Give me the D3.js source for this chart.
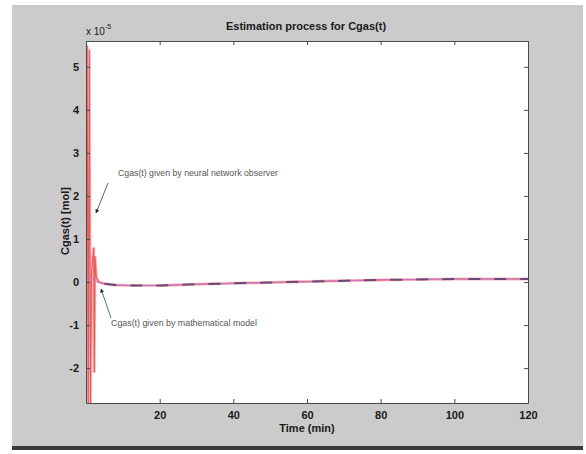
<!DOCTYPE html>
<html>
<head>
<meta charset="utf-8">
<script src="https://cdn.jsdelivr.net/npm/d3@7"></script>
<style>
  body { margin: 0; background: #fff; }
  text { font-family: 'Liberation Sans', Arial, sans-serif; }
</style>
</head>
<body>
<svg id="chart" width="586" height="454"></svg>
<script>
// time in minutes, values in units of 1e-5 mol
const observerTime = [0, 0.3, 0.6, 0.9, 1.2, 1.5, 2.1, 2.25, 2.45, 2.8, 3.5, 5, 8, 12, 20, 30, 40, 50, 60, 70, 80, 90, 100, 110, 120]
const observerValue = [0.1, 5.5, -2.9, 5.4, -2.9, 0.2, 0.8, -2.1, 0.6, 0.1, 0.0, -0.04, -0.07, -0.08, -0.08, -0.05, -0.03, -0.01, 0.01, 0.03, 0.05, 0.06, 0.07, 0.07, 0.07]
const modelTime = [0, 1, 2, 3, 5, 8, 12, 20, 30, 40, 50, 60, 70, 80, 90, 100, 110, 120]
const modelValue = [0.15, 0.1, 0.05, 0.0, -0.04, -0.07, -0.08, -0.08, -0.05, -0.03, -0.01, 0.01, 0.03, 0.05, 0.06, 0.07, 0.07, 0.07]
const xTicks = [0, 20, 40, 60, 80, 100, 120]
const xTickLabels = ['', '20', '40', '60', '80', '100', '120']
const yTicks = [-2, -1, 0, 1, 2, 3, 4, 5]

const svg = d3.select('#chart')

// figure background
svg.append('rect').attr('x', 12).attr('y', 5).attr('width', 571).attr('height', 444).attr('fill', '#cbcbcb')
svg.append('rect').attr('x', 12).attr('y', 446).attr('width', 571).attr('height', 4).attr('fill', '#3a3a3a')

const plot = { left: 86, top: 41, right: 528, bottom: 403 }

const x = d3.scaleLinear().domain([0, 120]).range([plot.left, plot.right])
const y = d3.scaleLinear().domain([-2.81, 5.6]).range([plot.bottom, plot.top])

svg.append('rect')
  .attr('x', plot.left).attr('y', plot.top)
  .attr('width', plot.right - plot.left).attr('height', plot.bottom - plot.top)
  .attr('fill', '#fff')

svg.append('defs').append('clipPath').attr('id', 'clip')
  .append('rect')
  .attr('x', plot.left).attr('y', plot.top)
  .attr('width', plot.right - plot.left).attr('height', plot.bottom - plot.top)

const lineGen = d3.line().x(d => x(d[0])).y(d => y(d[1]))
const observer = observerTime.map((t, i) => [t, observerValue[i]])
const model = modelTime.map((t, i) => [t, modelValue[i]])

const lines = svg.append('g').attr('clip-path', 'url(#clip)')
lines.append('path').datum(observer).attr('d', lineGen)
  .attr('fill', 'none').attr('stroke', '#f7baba').attr('stroke-width', 3)
lines.append('path').datum(observer).attr('d', lineGen)
  .attr('fill', 'none').attr('stroke', '#e85a5a').attr('stroke-width', 1.1)
lines.append('path').datum(model).attr('d', lineGen)
  .attr('fill', 'none').attr('stroke', '#c47ad0').attr('stroke-width', 1)
lines.append('path').datum(model.filter(d => d[0] >= 5)).attr('d', lineGen)
  .attr('fill', 'none').attr('stroke', '#6a4a7a').attr('stroke-width', 2)
  .attr('stroke-dasharray', '12,14')

// axes (matlab style: box with inward ticks on all sides)
const axisColor = '#4a4a4a'
const tickLen = 4
const bottomAxis = d3.axisBottom(x).tickValues(xTicks).tickSizeInner(-tickLen).tickSizeOuter(0)
  .tickFormat((d, i) => xTickLabels[i]).tickPadding(8)
const topAxis = d3.axisTop(x).tickValues(xTicks).tickSizeInner(-tickLen).tickSizeOuter(0).tickFormat('')
const leftAxis = d3.axisLeft(y).tickValues(yTicks).tickSizeInner(-tickLen).tickSizeOuter(0)
  .tickFormat(d => String(d)).tickPadding(7)
const rightAxis = d3.axisRight(y).tickValues(yTicks).tickSizeInner(-tickLen).tickSizeOuter(0).tickFormat('')

function styleAxis (g) {
  g.selectAll('path, line').attr('stroke', axisColor)
  g.selectAll('text').attr('fill', '#1a1a1a').style('font-size', '11px').style('font-weight', 'bold')
}

svg.append('g').attr('transform', `translate(0,${plot.bottom})`).call(bottomAxis).call(styleAxis)
svg.append('g').attr('transform', `translate(0,${plot.top})`).call(topAxis).call(styleAxis)
svg.append('g').attr('transform', `translate(${plot.left},0)`).call(leftAxis).call(styleAxis)
svg.append('g').attr('transform', `translate(${plot.right},0)`).call(rightAxis).call(styleAxis)

// titles
svg.append('text').attr('x', 306).attr('y', 30).attr('text-anchor', 'middle')
  .style('font-size', '11px').style('font-weight', 'bold').attr('fill', '#1a1a1a')
  .text('Estimation process for Cgas(t)')

const expo = svg.append('text').attr('x', 86).attr('y', 35)
  .style('font-size', '10px').attr('fill', '#1a1a1a')
expo.append('tspan').text('x 10')
expo.append('tspan').attr('dy', -6).style('font-size', '7px').text('-5')

svg.append('text').attr('x', 307).attr('y', 432).attr('text-anchor', 'middle')
  .style('font-size', '11px').style('font-weight', 'bold').attr('fill', '#1a1a1a')
  .text('Time (min)')

svg.append('text')
  .attr('transform', 'translate(69,221) rotate(-90)')
  .attr('text-anchor', 'middle')
  .style('font-size', '11px').style('font-weight', 'bold').attr('fill', '#1a1a1a')
  .text('Cgas(t) [mol]')

// annotations
const defs = svg.select('defs')
defs.append('marker').attr('id', 'arrow').attr('viewBox', '0 0 10 10')
  .attr('refX', 9).attr('refY', 5).attr('markerWidth', 5).attr('markerHeight', 5)
  .attr('orient', 'auto')
  .append('path').attr('d', 'M0,0 L10,5 L0,10 z').attr('fill', '#222')

svg.append('text').attr('x', 118).attr('y', 176)
  .attr('textLength', 160).attr('lengthAdjust', 'spacingAndGlyphs')
  .style('font-size', '9px').attr('fill', '#555')
  .text('Cgas(t) given by neural network observer')
svg.append('line').attr('x1', 108).attr('y1', 183).attr('x2', 96).attr('y2', 213)
  .attr('stroke', '#333').attr('stroke-width', 0.8).attr('marker-end', 'url(#arrow)')

svg.append('text').attr('x', 111).attr('y', 326)
  .attr('textLength', 146).attr('lengthAdjust', 'spacingAndGlyphs')
  .style('font-size', '9px').attr('fill', '#555')
  .text('Cgas(t) given by mathematical model')
svg.append('line').attr('x1', 111).attr('y1', 318).attr('x2', 101).attr('y2', 289)
  .attr('stroke', '#2f4f4f').attr('stroke-width', 0.8).attr('marker-end', 'url(#arrow)')
</script>
</body>
</html>
